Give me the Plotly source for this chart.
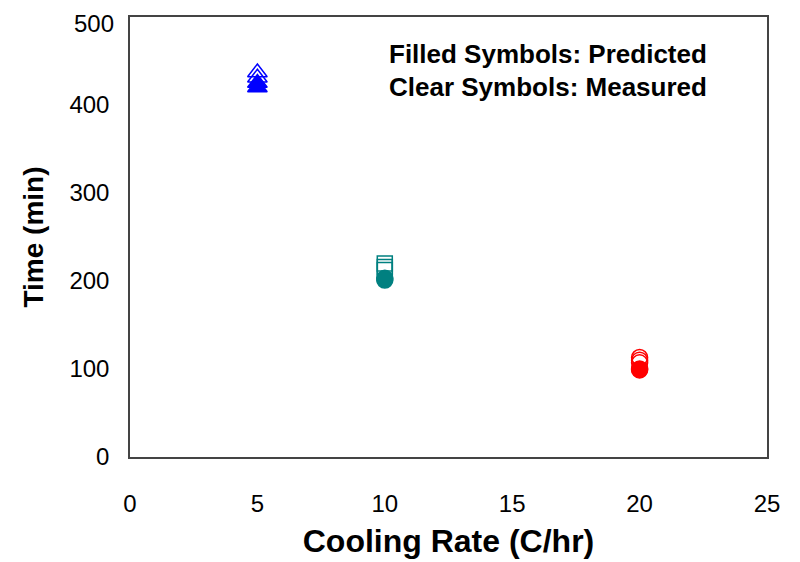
import plotly.graph_objects as go

# Data (Time in min vs cooling rate C/hr)
rate_5 = 5
meas_5 = [437, 431]
pred_5 = [425, 420]
rate_10 = 10
meas_10 = [220, 216, 212.5]
pred_10 = [203, 201]
rate_20 = 20
meas_20 = [113, 110, 107]
pred_20 = [100, 99]

x_ticks = [0, 5, 10, 15, 20, 25]
y_ticks = [0, 100, 200, 300, 400, 500]
y_tick_labels = ["0", "100", "200", "300", "400", ""]  # top label drawn as annotation below
y_top_label = "500"

blue = "#0000FF"
teal = "#008080"
red = "#FF0000"

fig = go.Figure()

def add(xv, yv, symbol, color, filled, size):
    fig.add_trace(go.Scatter(
        x=[xv] * len(yv), y=yv, mode="markers",
        marker=dict(symbol=symbol if filled else symbol + "-open",
                    size=size, color=color,
                    line=dict(color=color, width=1.5)),
        showlegend=False))

add(rate_5, meas_5, "triangle-up", blue, False, 17)
add(rate_5, pred_5, "triangle-up", blue, True, 17)
add(rate_10, meas_10, "square", teal, False, 15)
add(rate_10, pred_10, "circle", teal, True, 16)
add(rate_20, meas_20, "circle", red, False, 16)
add(rate_20, pred_20, "circle", red, True, 16)

font = "Liberation Sans, Arial, sans-serif"
fig.update_layout(
    width=792, height=554, autosize=False,
    margin=dict(l=122, r=33, t=9, b=105, autoexpand=False),
    paper_bgcolor="white", plot_bgcolor="white",
    font=dict(family=font, color="black"),
    xaxis=dict(range=[0, 25], tickvals=x_ticks, automargin=False,
               showgrid=False, zeroline=False, showline=True, mirror=True,
               linecolor="#444", linewidth=1.5, ticks="",
               tickfont=dict(size=24, family=font), ticklabelstandoff=24,
               title=dict(text="<b>Cooling Rate (C/hr)</b>", font=dict(size=32, family=font), standoff=14)),
    yaxis=dict(range=[0, 500], tickvals=y_ticks, ticktext=y_tick_labels, automargin=False,
               showgrid=False, zeroline=False, showline=True, mirror=True,
               linecolor="#444", linewidth=1.5, ticks="",
               tickfont=dict(size=24, family=font), ticklabelstandoff=14,
               title=dict(text="<b>Time (min)</b>", font=dict(size=28, family=font), standoff=18)),
    annotations=[
        dict(text=y_top_label, xref="paper", yref="y", x=0, y=y_ticks[-1],
             xanchor="right", yanchor="middle", xshift=-14, yshift=-6,
             showarrow=False, font=dict(size=24, family=font)),
        dict(text="<b>Filled Symbols: Predicted</b>", xref="paper", yref="paper",
             x=0.403, y=0.916, xanchor="left", yanchor="middle", showarrow=False,
             font=dict(size=26, family=font)),
        dict(text="<b>Clear Symbols: Measured</b>", xref="paper", yref="paper",
             x=0.403, y=0.841, xanchor="left", yanchor="middle", showarrow=False,
             font=dict(size=26, family=font)),
    ],
)

fig.write_html("out.html")
